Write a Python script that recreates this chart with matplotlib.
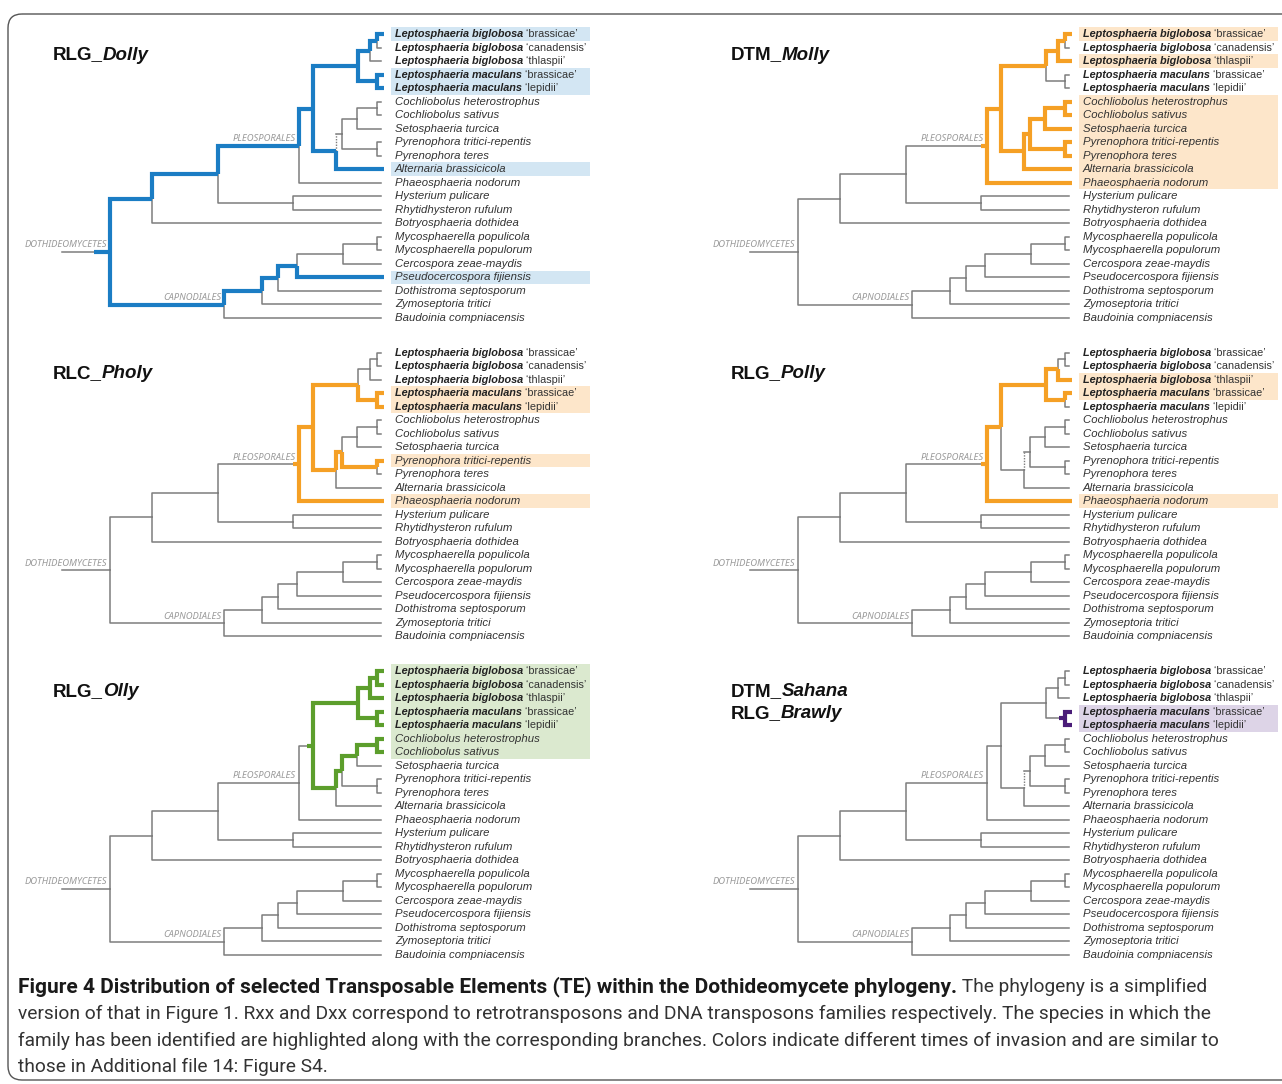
import matplotlib
matplotlib.use("Agg")
import matplotlib.pyplot as plt
from matplotlib.patches import FancyBboxPatch, Rectangle

plt.rcParams['font.family'] = ['Noto Sans', 'DejaVu Sans']

# leaves, top to bottom
species = ['Leptosphaeria biglobosa', 'Leptosphaeria biglobosa', 'Leptosphaeria biglobosa',
           'Leptosphaeria maculans', 'Leptosphaeria maculans',
           'Cochliobolus heterostrophus', 'Cochliobolus sativus', 'Setosphaeria turcica',
           'Pyrenophora tritici-repentis', 'Pyrenophora teres', 'Alternaria brassicicola',
           'Phaeosphaeria nodorum', 'Hysterium pulicare', 'Rhytidhysteron rufulum',
           'Botryosphaeria dothidea', 'Mycosphaerella populicola', 'Mycosphaerella populorum',
           'Cercospora zeae-maydis', 'Pseudocercospora fijiensis', 'Dothistroma septosporum',
           'Zymoseptoria tritici', 'Baudoinia compniacensis']
strains = ['brassicae', 'canadensis', 'thlaspii', 'brassicae', 'lepidii'] + [''] * 17

# topology (internal node -> children; ints are leaf indices)
tree = {
    'root': ['A', 'K'],
    'A': ['B', 14], 'B': ['C', 'H'], 'H': [12, 13],
    'C': ['D', 11], 'D': ['E', 'F'],
    'E': ['G', 'M'], 'G': ['G2', 2], 'G2': [0, 1], 'M': [3, 4],
    'F': ['P', 10], 'P': ['S', 'Pyr'], 'S': ['Coch', 7], 'Coch': [5, 6], 'Pyr': [8, 9],
    'K': ['K2', 21], 'K2': ['K3', 20], 'K3': ['K4', 19], 'K4': ['K5', 18],
    'K5': ['Myco', 17], 'Myco': [15, 16],
}
# node depths (horizontal position of each split)
depth = {'stem': 62, 'root': 110, 'A': 152, 'B': 218, 'H': 293, 'C': 299, 'D': 313,
         'E': 358, 'G': 370, 'G2': 377, 'M': 377, 'F': 336, 'P': 342, 'S': 357,
         'Coch': 377, 'Pyr': 377, 'K': 224, 'K2': 262, 'K3': 278, 'K4': 297,
         'K5': 343, 'Myco': 377}
leaf_depth = 381
clades = {'root': 'DOTHIDEOMYCETES', 'C': 'PLEOSPORALES', 'K': 'CAPNODIALES'}

# panels: title parts, highlighted leaves
titles = [['RLG_', 'Dolly'], ['DTM_', 'Molly'], ['RLC_', 'Pholy'],
          ['RLG_', 'Polly'], ['RLG_', 'Olly'], ['DTM_', 'Sahana', 'RLG_', 'Brawly']]
highlights = [[0, 3, 4, 10, 18], [0, 2, 5, 6, 7, 8, 9, 10, 11], [3, 4, 8, 11],
              [2, 3, 11], [0, 1, 2, 3, 4, 5, 6], [3, 4]]
line_colors = ['#1b7dc4', '#f5a025', '#f5a025', '#f5a025', '#5c9e2c', '#4a1c78']
box_colors = ['#d3e6f3', '#fde6ca', '#fde6ca', '#fde6ca', '#dbe9cf', '#ddd4e7']

caption_bold = "Figure 4 Distribution of selected Transposable Elements (TE) within the Dothideomycete phylogeny."
caption_lines = [" The phylogeny is a simplified",
                 "version of that in Figure 1. Rxx and Dxx correspond to retrotransposons and DNA transposons families respectively. The species in which the",
                 "family has been identified are highlighted along with the corresponding branches. Colors indicate different times of invasion and are similar to",
                 "those in Additional file 14: Figure S4."]

GRAY = '#7d7d7d'
LAB = ['Liberation Sans', 'DejaVu Sans']
HEAD = ['Liberation Sans', 'DejaVu Sans']
CAP = ['Roboto', 'DejaVu Sans']


def leaves_under(n):
    if isinstance(n, int):
        return {n}
    return set().union(*(leaves_under(c) for c in tree[n]))


def node_y(n, ys):
    if isinstance(n, int):
        return ys[n]
    return sum(node_y(c, ys) for c in tree[n]) / 2


def nx(n):
    return leaf_depth if isinstance(n, int) else depth[n]


fig = plt.figure(figsize=(12.82, 10.84), dpi=100)
ax = fig.add_axes([0, 0, 1, 1])
ax.set_xlim(0, 1282)
ax.set_ylim(1084, 0)
ax.axis('off')

ax.add_patch(FancyBboxPatch((8, 14), 1300, 1066, boxstyle='round,pad=0,rounding_size=14',
                            fc='none', ec='#555555', lw=1.0))

for i, hl in enumerate(highlights):
    ox = 0 if i % 2 == 0 else 688
    oy = 34 + 318.5 * (i // 2)
    ys = [oy + 13.52 * k for k in range(len(species))]
    col = line_colors[i]
    hl = set(hl)

    # highlight boxes for runs of consecutive leaves
    runs = []
    for k in sorted(hl):
        if runs and runs[-1][-1] == k - 1:
            runs[-1].append(k)
        else:
            runs.append([k])
    for r in runs:
        ax.add_patch(Rectangle((ox + 391, ys[r[0]] - 6.76), 199, 13.52 * len(r),
                               fc=box_colors[i], ec='none', zorder=0))

    # most recent common ancestor of the highlighted leaves
    cands = [n for n in tree if hl <= leaves_under(n)]
    mrca = min(cands, key=lambda n: len(leaves_under(n)))
    inside = {n for n in tree if leaves_under(n) <= leaves_under(mrca)}

    # stem
    ry = node_y('root', ys)
    ax.plot([ox + depth['stem'], ox + depth['root']], [ry, ry], color=GRAY, lw=1.1, zorder=1)

    colored = []
    for p, kids in tree.items():
        px, py = ox + depth[p], node_y(p, ys)
        for c in kids:
            cx, cy = ox + nx(c), node_y(c, ys)
            on = p in inside and bool(leaves_under(c) & hl)
            if on:
                colored.append(([px, px, cx + (3 if isinstance(c, int) else 0)], [py, cy, cy]))
                continue
            if p == 'F' and c == 'P':
                ax.plot([px, px], [py, cy], color=GRAY, lw=1.0, ls=(0, (1, 1)), zorder=1)
                ax.plot([px, cx], [cy, cy], color=GRAY, lw=1.1, zorder=1)
            else:
                ax.plot([px, px, cx], [py, cy, cy], color=GRAY, lw=1.1, zorder=1)
    for xs, yy in colored:
        ax.plot(xs, yy, color=col, lw=3.0, solid_joinstyle='miter',
                solid_capstyle='butt', zorder=2)
    # short coloured stub on the branch entering the ancestor
    mx, my = ox + depth[mrca], node_y(mrca, ys)
    stub = 16 if mrca == 'root' else 6
    ax.plot([mx - stub, mx + 1], [my, my], color=col, lw=3.0, solid_capstyle='butt', zorder=2)

    # clade labels
    for n, lab in clades.items():
        ax.text(ox + depth[n] - 3, node_y(n, ys) - 2.5, lab, ha='right', va='bottom',
                fontsize=6.8, style='italic', color='#9a9a9a')

    # leaf labels
    for k, name in enumerate(species):
        if strains[k]:
            t = ax.text(ox + 395, ys[k], name, fontsize=7.8, style='italic', weight='bold',
                        family=LAB, color='#222222', va='center', ha='left')
            ax.annotate(' \u2018' + strains[k] + '\u2019', xy=(1, 0.5), xycoords=t,
                        fontsize=7.8, family=LAB, color='#333333', va='center', ha='left')
        else:
            ax.text(ox + 395, ys[k], name, fontsize=8.2, style='italic', family=LAB,
                    color='#333333', va='center', ha='left')

    # title
    tparts = titles[i]
    tx = 53 if i % 2 == 0 else 731
    for j in range(0, len(tparts), 2):
        ty = oy + 21 + 22 * (j // 2)
        t = ax.text(tx, ty, tparts[j], fontsize=13.5, weight='bold',
                    family=HEAD, color='#111111', va='center', ha='left')
        ax.annotate(tparts[j + 1], xy=(1, 0.5), xycoords=t, fontsize=13.5, weight='bold',
                    style='italic', family=HEAD, color='#111111', va='center', ha='left')

# caption
t = ax.text(18, 987, caption_bold, fontsize=15, weight='bold', family=CAP,
            color='#1a1a1a', va='center', ha='left')
ax.annotate(caption_lines[0], xy=(1, 0.5), xycoords=t, fontsize=13.8, family=CAP,
            color='#333333', va='center', ha='left')
for j, line in enumerate(caption_lines[1:]):
    ax.text(18, 1014 + 26.7 * j, line, fontsize=13.8, family=CAP,
            color='#333333', va='center', ha='left')

fig.savefig('out.png', dpi=100)
